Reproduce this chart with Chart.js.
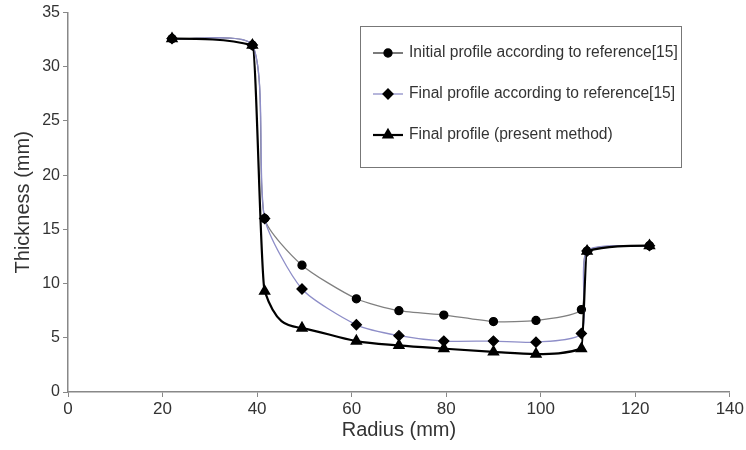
<!DOCTYPE html>
<html lang="en">
<head>
    <meta charset="UTF-8">
    <title>Thickness profile</title>
    <script src="https://cdn.jsdelivr.net/npm/chart.js@4.4.0/dist/chart.umd.min.js"></script>
    <style>
        html, body { margin: 0; padding: 0; background: #fff; }
        #wrap { width: 746px; height: 450px; }
    </style>
</head>
<body>
    <div id="wrap"><canvas id="profileChart" width="746" height="450"></canvas></div>
    <script>
        // values
        const radius = [22, 39, 41.6, 49.5, 61, 70, 79.5, 90, 99, 108.6, 109.8, 123];
        const initialRef = [32.6, 32.0, 16.0, 11.7, 8.6, 7.5, 7.1, 6.5, 6.6, 7.6, 13.0, 13.5];
        const finalRef = [32.6, 32.0, 16.0, 9.5, 6.2, 5.2, 4.7, 4.7, 4.6, 5.4, 13.0, 13.5];
        const finalPresent = [32.6, 32.0, 9.3, 5.9, 4.7, 4.3, 4.0, 3.7, 3.5, 4.0, 13.0, 13.5];
        const seriesLabels = [
            'Initial profile according to reference[15]',
            'Final profile according to reference[15]',
            'Final profile (present method)'
        ];
        const xTicks = [0, 20, 40, 60, 80, 100, 120, 140];
        const yTicks = [0, 5, 10, 15, 20, 25, 30, 35];

        const FONT = '"Liberation Sans", Arial, sans-serif';

        function toPoints(ys) {
            return radius.map((x, i) => ({ x: x, y: ys[i] }));
        }

        // legend drawn inside the plot, framed like the original
        const boxLegend = {
            id: 'boxLegend',
            afterDraw(chart) {
                const ctx = chart.ctx;
                const x0 = 360, y0 = 26, w = 321, h = 141;
                ctx.save();
                ctx.fillStyle = '#fff';
                ctx.fillRect(x0, y0, w, h);
                ctx.strokeStyle = '#777';
                ctx.lineWidth = 1;
                ctx.strokeRect(x0 + 0.5, y0 + 0.5, w, h);
                const rows = [53, 94, 135];
                chart.data.datasets.forEach((ds, i) => {
                    const cy = rows[i];
                    ctx.strokeStyle = i === 0 ? '#333' : ds.borderColor;
                    ctx.lineWidth = ds.borderWidth;
                    ctx.beginPath();
                    ctx.moveTo(373, cy);
                    ctx.lineTo(403, cy);
                    ctx.stroke();
                    ctx.fillStyle = '#000';
                    ctx.strokeStyle = '#000';
                    Chart.helpers.drawPoint(ctx, {
                        pointStyle: ds.pointStyle,
                        radius: ds.pointRadius,
                        borderWidth: 1
                    }, 388, cy);
                    ctx.fillStyle = '#333';
                    ctx.font = '15.6px ' + FONT;
                    ctx.textBaseline = 'middle';
                    ctx.fillText(ds.label, 409, cy);
                });
                ctx.restore();
            }
        };

        const ctx = document.getElementById('profileChart').getContext('2d');
        new Chart(ctx, {
            type: 'line',
            data: {
                datasets: [
                    {
                        label: seriesLabels[0],
                        data: toPoints(initialRef),
                        borderColor: '#808080',
                        borderWidth: 1.3,
                        pointStyle: 'circle',
                        pointRadius: 4,
                        pointBackgroundColor: '#000',
                        pointBorderColor: '#000',
                        tension: 0.22,
                        order: 2
                    },
                    {
                        label: seriesLabels[1],
                        data: toPoints(finalRef),
                        borderColor: '#8e8ec8',
                        borderWidth: 1.3,
                        pointStyle: 'rectRot',
                        pointRadius: 5,
                        pointBackgroundColor: '#000',
                        pointBorderColor: '#000',
                        tension: 0.22,
                        order: 1
                    },
                    {
                        label: seriesLabels[2],
                        data: toPoints(finalPresent),
                        borderColor: '#000',
                        borderWidth: 2.2,
                        pointStyle: 'triangle',
                        pointRadius: 5,
                        pointBackgroundColor: '#000',
                        pointBorderColor: '#000',
                        cubicInterpolationMode: 'monotone',
                        order: 0
                    }
                ]
            },
            options: {
                responsive: false,
                animation: false,
                layout: { padding: { top: 12, right: 15, left: 0, bottom: 0 } },
                plugins: { legend: { display: false }, tooltip: { enabled: false } },
                scales: {
                    x: {
                        type: 'linear',
                        min: 0, max: 140,
                        afterBuildTicks: s => { s.ticks = xTicks.map(v => ({ value: v })); },
                        afterFit: s => { s.height = 58; },
                        grid: { drawOnChartArea: false, color: '#888', tickLength: 5 },
                        border: { color: '#888', width: 1.5 },
                        ticks: { color: '#333', font: { family: FONT, size: 17 }, padding: 2 },
                        title: { display: true, text: 'Radius (mm)', color: '#333', font: { family: FONT, size: 20 }, padding: { top: 0, bottom: 8 } }
                    },
                    y: {
                        min: 0, max: 35,
                        afterBuildTicks: s => { s.ticks = yTicks.map(v => ({ value: v })); },
                        afterFit: s => { s.width = 68; },
                        grid: { drawOnChartArea: false, color: '#888', tickLength: 5 },
                        border: { color: '#888', width: 1.5 },
                        ticks: { color: '#333', font: { family: FONT, size: 16 }, padding: 3 },
                        title: { display: true, text: 'Thickness (mm)', color: '#333', font: { family: FONT, size: 20 }, padding: { top: 11, bottom: 0 } }
                    }
                }
            },
            plugins: [boxLegend]
        });
    </script>
</body>
</html>
